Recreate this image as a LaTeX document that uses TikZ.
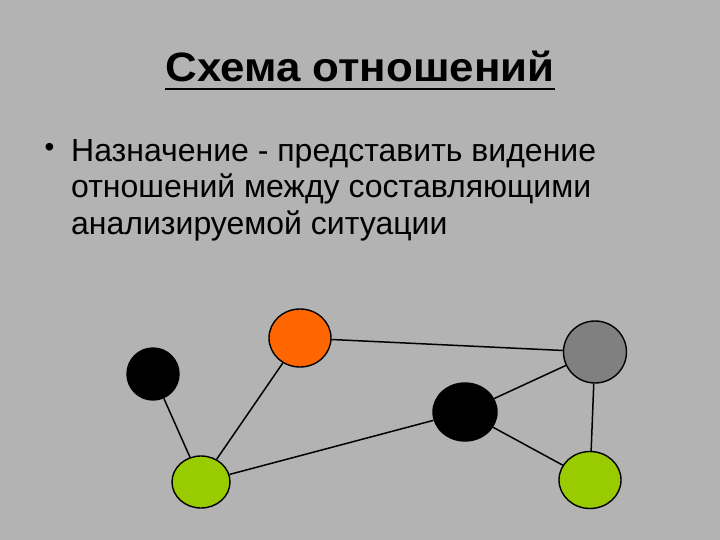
\documentclass[tikz,border=0pt]{standalone}
\usepackage{fontspec}
\setmainfont{Liberation Sans}
\usetikzlibrary{shapes.geometric}
\definecolor{bg}{RGB}{179,179,179}
\definecolor{nodegray}{RGB}{128,128,128}
\definecolor{nodeorange}{RGB}{255,102,0}
\definecolor{nodegreen}{RGB}{153,204,0}
\tikzset{
  blob/.style={ellipse, draw=black, line width=1.4pt, inner sep=0pt},
  edge/.style={draw=black, line width=1.5pt},
  bodytext/.style={anchor=base west, inner sep=0pt, font=\fontsize{32}{36}\selectfont},
}
\begin{document}
\begin{tikzpicture}[x=1pt,y=-1pt]
\fill[bg] (0,0) rectangle (720,540);
\useasboundingbox (0,0) rectangle (720,540);
% title
\node[anchor=base, inner sep=0pt, font=\bfseries\fontsize{41}{46}\selectfont] (title) at (360,82) {\scalebox{1.07}[1]{Схема отношений}};
\draw[line width=2.8pt] ([yshift=-7pt]title.base west) -- ([yshift=-7pt]title.base east);
% bullet text
\node[anchor=center, inner sep=0pt, font=\fontsize{28}{28}\selectfont] (bul) at (49.5,150) {•};
\node[bodytext] (l1) at (71,162) {Назначение - представить видение};
\node[bodytext] (l2) at (71,198) {отношений между составляющими};
\node[bodytext] (l3) at (71,235) {анализируемой ситуации};
% nodes
\node[blob, fill=black, minimum width=52pt, minimum height=52pt] (k1) at (153,374) {};
\node[blob, fill=nodeorange, minimum width=62pt, minimum height=58pt] (o) at (300,338) {};
\node[blob, fill=nodegreen, minimum width=58pt, minimum height=52pt] (g1) at (201,482) {};
\node[blob, fill=nodegray, minimum width=63pt, minimum height=62pt] (gr) at (595,352) {};
\node[blob, fill=black, minimum width=64pt, minimum height=58pt] (k2) at (465,412) {};
\node[blob, fill=nodegreen, minimum width=62pt, minimum height=57pt] (g2) at (590,480) {};
% edges
\draw[edge] (k1) -- (g1);
\draw[edge] (o) -- (g1);
\draw[edge] (o) -- (gr);
\draw[edge] (g1) -- (k2);
\draw[edge] (k2) -- (gr);
\draw[edge] (gr) -- (g2);
\draw[edge] (k2) -- (g2);
\end{tikzpicture}
\end{document}
